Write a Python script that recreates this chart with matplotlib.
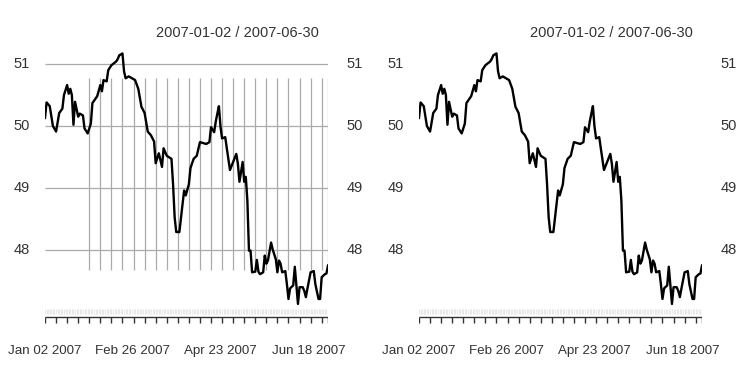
import numpy as np
import pandas as pd
import matplotlib
matplotlib.use('Agg')
import matplotlib.pyplot as plt
import matplotlib.dates as mdates

# values (day offset from 2007-01-02, close)
days = [0, 1, 3, 5, 7, 9, 11, 12, 14, 15, 16, 17, 18, 19, 21, 22, 24, 25, 27, 29,
        30, 33, 35, 36, 37, 39, 40, 42, 45, 46, 47, 49, 50, 51, 53, 55, 57, 59, 61, 63,
        65, 67, 69, 70, 72, 74, 75, 77, 80, 81, 82, 83, 85, 87, 88, 89, 91, 92, 94, 96,
        98, 102, 104, 105, 107, 108, 109, 110, 111, 112, 114, 115, 117, 119, 121, 122, 123, 125, 126, 127,
        128, 129, 130, 131, 133, 134, 135, 136, 138, 139, 140, 141, 143, 144, 146, 147, 148, 149, 150, 152,
        153, 154, 155, 157, 158, 160, 161, 163, 164, 165, 166, 168, 170, 171, 173, 174, 175, 177, 178, 179]
close = [50.13, 50.38, 50.32, 50.00, 49.91, 50.21, 50.28, 50.50, 50.66, 50.52, 50.60, 50.50, 50.02, 50.39, 50.15, 50.20, 50.17, 49.96, 49.88, 50.04,
         50.37, 50.48, 50.66, 50.56, 50.74, 50.72, 50.90, 50.98, 51.04, 51.08, 51.14, 51.17, 50.88, 50.77, 50.80, 50.77, 50.74, 50.60, 50.31, 50.21,
         49.91, 49.85, 49.75, 49.40, 49.56, 49.34, 49.64, 49.52, 49.47, 49.06, 48.53, 48.29, 48.29, 48.74, 48.96, 48.88, 49.06, 49.32, 49.47, 49.52,
         49.74, 49.71, 49.74, 49.98, 49.90, 50.07, 50.20, 50.32, 49.99, 49.80, 49.82, 49.64, 49.29, 49.42, 49.55, 49.39, 49.10, 49.42, 49.10, 49.18,
         48.80, 47.99, 47.99, 47.64, 47.65, 47.84, 47.65, 47.61, 47.64, 47.91, 47.78, 47.83, 48.12, 48.01, 47.85, 47.64, 47.83, 47.78, 47.64, 47.66,
         47.45, 47.21, 47.38, 47.43, 47.73, 47.13, 47.40, 47.40, 47.34, 47.24, 47.38, 47.64, 47.66, 47.45, 47.21, 47.21, 47.56, 47.61, 47.62, 47.75]

title = '2007-01-02 / 2007-06-30'
yticks = [48, 49, 50, 51]
xlabels = ['Jan 02 2007', 'Feb 26 2007', 'Apr 23 2007', 'Jun 18 2007']
label_days = [0, 55, 111, 167]

start = pd.Timestamp('2007-01-02')
dates = [start + pd.Timedelta(days=d) for d in days]
all_days = pd.date_range('2007-01-02', '2007-06-30', freq='D')
week_ticks = list(all_days[::7]) + [all_days[-1]]

plt.rcParams['font.family'] = ['Liberation Sans', 'DejaVu Sans']
txt = '#333333'
W, H = 747, 368

fig = plt.figure(figsize=(W / 100, H / 100), dpi=100)

x0 = mdates.date2num(all_days[0])
x1 = mdates.date2num(all_days[-1])
ppd = 283 / (x1 - x0)          # pixels per day
ppu = 62                       # pixels per unit


def yv(py):
    # pixel row -> value
    return 51 - (py - 64) / ppu


def xd(px):
    # pixel column (inside panel) -> date number
    return x0 + (px - 45) / ppd


for i, off in enumerate([0, 374]):
    ax = fig.add_axes([(off + 45) / W, 1 - 335 / H, 283 / W, 315 / H])
    ax.set_xlim(x0, x1)
    ax.set_ylim(yv(335), yv(20))
    ax.axis('off')

    if i == 0:
        ax.hlines(yticks, x0, x1, color='#aaaaaa', lw=0.9, zorder=1)
        grid_x = [t for t in week_ticks if t >= start + pd.Timedelta(days=28)]
        ax.vlines(mdates.date2num(grid_x), yv(270), yv(78), color='#aaaaaa', lw=0.9, zorder=1)

    ax.plot(mdates.date2num(dates), close, color='black', lw=1.7, zorder=3)

    # faint daily minor ticks
    ax.vlines(mdates.date2num(all_days), yv(314), yv(309), color='#e8e8e8', lw=0.8)
    # axis line and weekly ticks
    ax.hlines(yv(317), x0, x1, color='#333333', lw=1.0)
    ax.vlines(mdates.date2num(week_ticks), yv(323), yv(317), color='#333333', lw=1.0)

    for d, lab in zip(label_days, xlabels):
        ax.text(x0 + d, yv(351), lab, ha='center', va='center', fontsize=9.6, color=txt, clip_on=False)

    for v in yticks:
        ax.text(xd(22), v, str(v), ha='center', va='center', fontsize=10.5, color=txt, clip_on=False)
        ax.text(xd(355), v, str(v), ha='center', va='center', fontsize=10.5, color=txt, clip_on=False)

    ax.text(xd(319), yv(33), title, ha='right', va='center', fontsize=10.5, color=txt, clip_on=False)

fig.savefig('out.png', dpi=100)
